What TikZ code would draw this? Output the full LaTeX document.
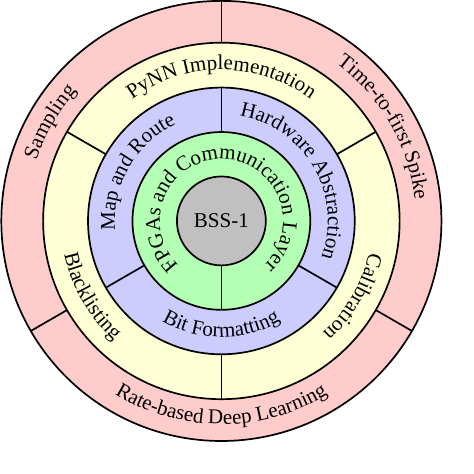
\documentclass[tikz,border=0pt]{standalone}
\usepackage{fontspec}
\setmainfont{Liberation Serif}
\usepackage{tikz}
\usetikzlibrary{decorations.text}
\definecolor{ringpink}{HTML}{FFCCCC}
\definecolor{ringyellow}{HTML}{FFFFD5}
\definecolor{ringblue}{HTML}{CCCCFF}
\definecolor{ringgreen}{HTML}{B3FFB3}
\definecolor{coregray}{HTML}{C0C0C0}

\begin{document}
\begin{tikzpicture}[
    ring/.style={draw=black, line width=1.1pt},
    divider/.style={draw=black, line width=1.1pt},
    cwlabel/.style={
        decorate,
        decoration={text along path, text align=center,
            text={|\fontsize{13.6}{16}\selectfont|#1}}
    },
    ccwlabel/.style={
        decorate,
        decoration={text along path, text align=center,
            text={|\fontsize{13.6}{16}\selectfont|#1}}
    }
]
    \useasboundingbox (-5.03,-5.75) rectangle (5.74,5.02);

    % === RINGS ===
    \filldraw[ring, fill=ringpink] (0,0) circle[radius=5];
    \filldraw[ring, fill=ringyellow] (0,0) circle[radius=4.05];
    \filldraw[ring, fill=ringblue] (0,0) circle[radius=3.03];
    \filldraw[ring, fill=ringgreen] (0,0) circle[radius=2.02];
    \filldraw[ring, fill=coregray] (0,0) circle[radius=1.01];

    % === DIVIDERS ===
    \foreach \a in {90,210,330} \draw[divider] (\a:4.05) -- (\a:5);
    \foreach \a in {30,150,270} \draw[divider] (\a:3.03) -- (\a:4.05);
    \foreach \a in {90,210,330} \draw[divider] (\a:2.02) -- (\a:3.03);
    \draw[divider] (270:1.01) -- (270:2.02);

    % === OUTER RING: APPLICATIONS ===
    \path[cwlabel={Sampling}] (210:4.42) arc[start angle=210, end angle=90, radius=4.42];
    \path[cwlabel={Time-to-first Spike}] (90:4.42) arc[start angle=90, end angle=-30, radius=4.42];
    \path[ccwlabel={Rate-based Deep Learning}] (210:4.62) arc[start angle=210, end angle=330, radius=4.62];

    % === SOFTWARE RING ===
    \path[cwlabel={PyNN Implementation}] (150:3.43) arc[start angle=150, end angle=30, radius=3.43];
    \path[ccwlabel={Blacklisting}] (150:3.65) arc[start angle=150, end angle=270, radius=3.65];
    \path[cwlabel={Calibration}] (30:3.43) arc[start angle=30, end angle=-90, radius=3.43];

    % === HARDWARE INTERFACE RING ===
    \path[cwlabel={Map and Route}] (210:2.42) arc[start angle=210, end angle=90, radius=2.42];
    \path[cwlabel={Hardware Abstraction}] (90:2.42) arc[start angle=90, end angle=-30, radius=2.42];
    \path[ccwlabel={Bit Formatting}] (210:2.64) arc[start angle=210, end angle=330, radius=2.64];

    % === FPGA RING ===
    \path[cwlabel={FPGAs and Communication Layer}] (270:1.4) arc[start angle=270, end angle=-90, radius=1.4];

    % === CORE ===
    \node[font=\fontsize{13.6}{16}\selectfont] (core) at (0,0) {BSS-1};
\end{tikzpicture}
\end{document}
